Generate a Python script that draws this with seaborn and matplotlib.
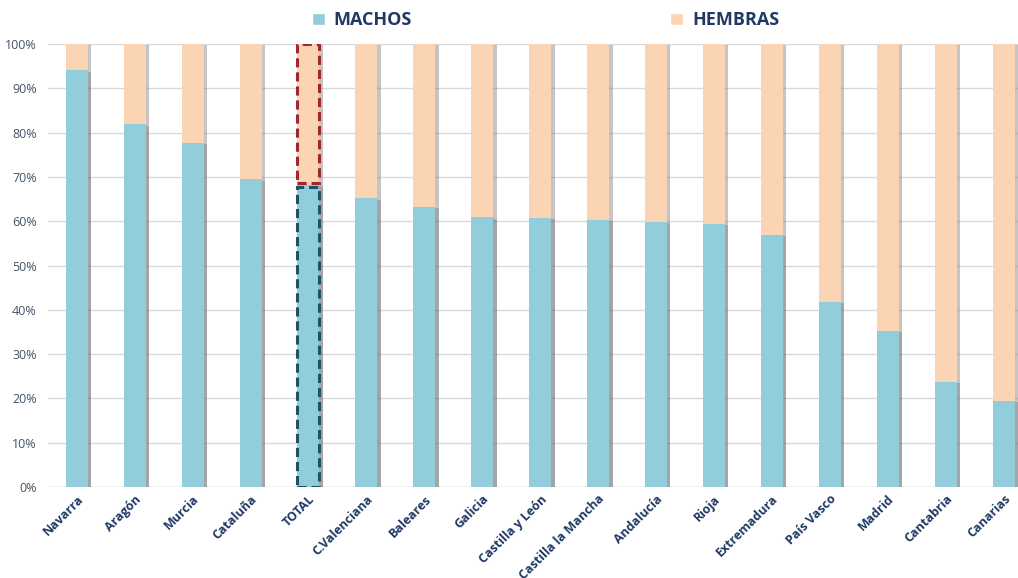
import matplotlib
matplotlib.use("Agg")
import matplotlib.pyplot as plt
import matplotlib.patheffects as pe
from matplotlib.patches import Rectangle, Patch
import seaborn as sns
import pandas as pd

regiones = ["Navarra", "Aragón", "Murcia", "Cataluña", "TOTAL", "C.Valenciana",
            "Baleares", "Galicia", "Castilla y León", "Castilla la Mancha",
            "Andalucía", "Rioja", "Extremadura", "País Vasco", "Madrid",
            "Cantabria", "Canarias"]
machos = [94.1, 81.9, 77.7, 69.5, 68.2, 65.2, 63.2, 60.9, 60.7, 60.3,
          59.8, 59.4, 56.9, 41.8, 35.2, 23.7, 19.4]
hembras = [100 - m for m in machos]
yticks = [0, 10, 20, 30, 40, 50, 60, 70, 80, 90, 100]

c_machos = "#92CDDC"
c_hembras = "#FBD4B4"
navy = "#1F3864"

df = pd.DataFrame({"region": regiones, "machos": machos,
                   "total": [m + h for m, h in zip(machos, hembras)]})

sns.set_theme(style="white")
plt.rcParams["font.family"] = ["Open Sans", "DejaVu Sans"]

fig = plt.figure(figsize=(10.18, 5.78), dpi=100)
ax = fig.add_axes([0.047, 0.1574, 0.953, 0.7665])

shadow = [pe.SimplePatchShadow(offset=(2.5, -1), shadow_rgbFace="#7f7f7f", alpha=0.45), pe.Normal()]

sns.barplot(data=df, x="region", y="total", color=c_hembras, width=0.38,
            saturation=1, ax=ax, zorder=3)
n = len(ax.patches)
sns.barplot(data=df, x="region", y="machos", color=c_machos, width=0.38,
            saturation=1, ax=ax, zorder=4)
for p in ax.patches:
    p.set_path_effects(shadow)
    p.set_edgecolor("none")

# dashed outlines on TOTAL
i = regiones.index("TOTAL")
ph = ax.patches[i]
pm = ax.patches[n + i]
x0, w = ph.get_x(), ph.get_width()
gap = 0.4
ax.add_patch(Rectangle((x0, machos[i] + gap), w, 100 - machos[i] - gap,
                       fill=False, edgecolor="#A0282D", lw=2.2, ls=(0, (3, 1.6)), zorder=6))
ax.add_patch(Rectangle((x0, 0), w, machos[i] - gap,
                       fill=False, edgecolor="#1D5366", lw=2.2, ls=(0, (3, 1.6)), zorder=6))

ax.set_ylim(0, 100)
ax.set_xlim(-0.5, 16.25)
ax.set_yticks(yticks)
ax.set_yticklabels([f"{v}%" for v in yticks], fontsize=9, color="#44546A")
ax.yaxis.grid(True, color="#D9D9D9", lw=1, zorder=0)
ax.set_axisbelow(True)
for s in ax.spines.values():
    s.set_visible(False)
ax.axhline(0, color="#D9D9D9", lw=1, zorder=1)
ax.tick_params(axis="both", length=0, pad=4)
ax.tick_params(axis="y", pad=8)
ax.set_xlabel("")
ax.set_ylabel("")
ax.set_xticks(range(len(regiones)))
ax.set_xticklabels(regiones, rotation=45, ha="right", rotation_mode="anchor",
                   fontsize=9, fontweight="bold", color=navy)

handles = [Patch(facecolor=c_machos, label="MACHOS"), Patch(facecolor=c_hembras, label="HEMBRAS")]
leg = fig.legend(handles=handles, loc="center", bbox_to_anchor=(0.536, 0.965), ncol=2,
                 frameon=False, handlelength=0.7, handleheight=0.7, handletextpad=0.5,
                 columnspacing=14.3, prop={"size": 13, "weight": "bold"})
for t in leg.get_texts():
    t.set_color(navy)

fig.savefig("out.png", dpi=100)
